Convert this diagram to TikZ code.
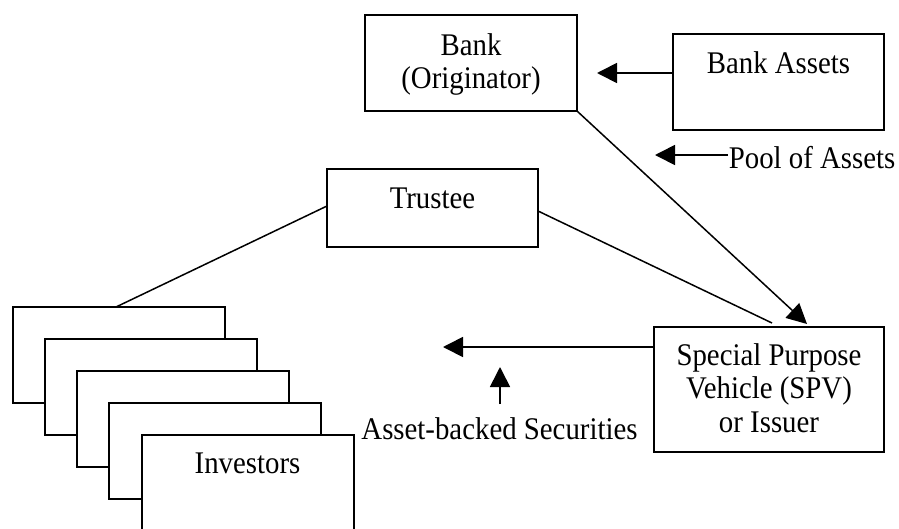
\documentclass[tikz,border=0pt]{standalone}
\usepackage{fontspec}
\setmainfont{Liberation Serif}[FakeStretch=0.915]
\usetikzlibrary{arrows.meta}
\begin{document}
\begin{tikzpicture}[x=1pt,y=-1pt,line width=1.7pt,
  box/.style={draw,fill=white,anchor=north west,inner sep=0pt,outer sep=0pt},
  txt/.style={anchor=base,inner sep=0pt,font=\fontsize{31.5}{33}\selectfont},
  arr/.style={-{Triangle[length=20pt,width=20pt]}},
  con/.style={line width=1.5pt}]
\useasboundingbox (0,0) rectangle (899,528);
% boxes
\node[box,minimum width=212pt,minimum height=96pt] (bank) at (365,15) {};
\node[box,minimum width=211pt,minimum height=96pt] (assets) at (673,34) {};
\node[box,minimum width=211pt,minimum height=78pt] (trustee) at (327,169) {};
\node[box,minimum width=230pt,minimum height=125pt] (spv) at (654,327) {};
\node[box,minimum width=212pt,minimum height=96pt] (inv1) at (13,307) {};
\node[box,minimum width=212pt,minimum height=96pt] (inv2) at (45,339) {};
\node[box,minimum width=212pt,minimum height=96pt] (inv3) at (77,371) {};
\node[box,minimum width=212pt,minimum height=96pt] (inv4) at (109,403) {};
\node[box,minimum width=212pt,minimum height=96pt] (inv5) at (142,435) {};
% texts
\node[txt] (bankA) at (471,55) {Bank};
\node[txt] (bankB) at (471,88) {(Originator)};
\node[txt] (assetsT) at (778.5,73) {Bank Assets};
\node[txt,anchor=base west] (poolT) at (728,168) {Pool of Assets};
\node[txt] (trusteeT) at (432.5,208) {Trustee};
\node[txt] (spvA) at (769,365) {Special Purpose};
\node[txt] (spvB) at (769,398) {Vehicle (SPV)};
\node[txt] (spvC) at (769,432) {or Issuer};
\node[txt] (absT) at (499.5,439) {Asset-backed Securities};
\node[txt] (invT) at (247.5,473) {Investors};
% connector end points
\coordinate (bankin) at (597,73);
\coordinate (pooltip) at (655,155);
\coordinate (spvin) at (807,324);
\coordinate (spvtr) at (772,323);
\coordinate (invin) at (116,307);
\coordinate (abstip) at (443,347);
\coordinate (uptip) at (500,367);
\coordinate (upbase) at (500,404);
% connectors
\draw[arr] (bankin -| assets.west) -- (bankin);
\draw[arr] (pooltip -| poolT.west) -- (pooltip);
\draw[arr,con] (bank.south east) -- (spvin);
\draw[con] ([yshift=-3pt]trustee.east) -- (spvtr);
\draw[con] ([yshift=2pt]trustee.west) -- (invin);
\draw[arr] (abstip -| spv.west) -- (abstip);
\draw[arr] (upbase) -- (uptip);
\end{tikzpicture}
\end{document}
